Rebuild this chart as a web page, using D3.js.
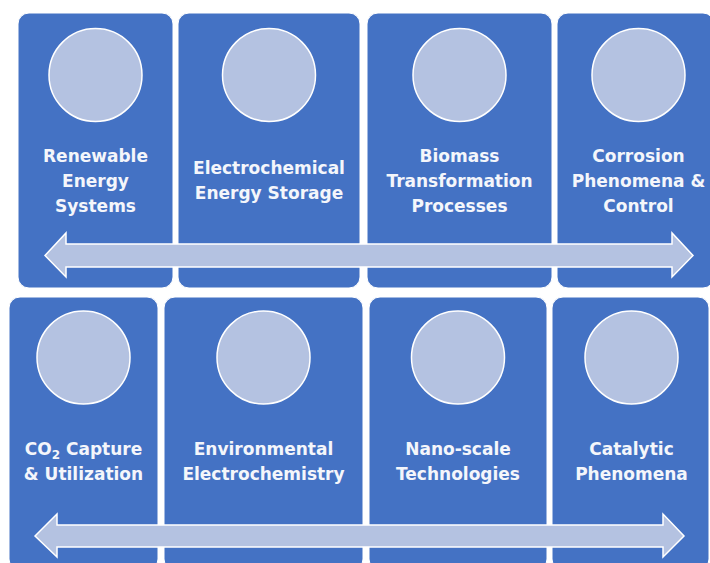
<!DOCTYPE html>
<html>
<head>
<meta charset="utf-8">
<script src="https://cdn.jsdelivr.net/npm/d3@7"></script>
<style>
  html, body { margin: 0; padding: 0; background: #ffffff; }
  svg { display: block; }
</style>
</head>
<body>
<svg id="chart" width="710" height="563"></svg>
<script>
// ---- Data ----
const topicsRow1 = [
  ["Renewable", "Energy", "Systems"],
  ["Electrochemical", "Energy Storage"],
  ["Biomass", "Transformation", "Processes"],
  ["Corrosion", "Phenomena &", "Control"]
];
const topicsRow2 = [
  ["CO|2| Capture", "& Utilization"],
  ["Environmental", "Electrochemistry"],
  ["Nano-scale", "Technologies"],
  ["Catalytic", "Phenomena"]
];

// ---- Layout (diagram geometry) ----
const rows = [
  { items: topicsRow1, top: 13, bottom: 288,
    edges: [[18,173],[178,360],[367,552],[557,714]], cxAdj: [0,0,0,3],
    circleY: 75, textY: 180.5,
    arrow: { y0: 244, y1: 267, h0: 233, h1: 277, tipL: 45, baseL: 66, tipR: 693, baseR: 672 } },
  { items: topicsRow2, top: 297, bottom: 570,
    edges: [[9,158],[164,363],[369,547],[552,709]], cxAdj: [0,0,0,1],
    circleY: 357.5, textY: 461,
    arrow: { y0: 525, y1: 547, h0: 514, h1: 557, tipL: 35, baseL: 57, tipR: 684, baseR: 663 } }
];

const BOX = "#4472C4", LIGHT = "#B4C2E1", TEXT = "#F4F6FB";
const svg = d3.select("#chart");

rows.forEach(row => {
  const g = svg.append("g");
  const data = row.items.map((lines, i) => ({
    lines, x0: row.edges[i][0], x1: row.edges[i][1],
    cx: (row.edges[i][0] + row.edges[i][1]) / 2 + row.cxAdj[i]
  }));

  g.selectAll("rect.box").data(data).join("rect")
    .attr("class", "box")
    .attr("x", d => d.x0).attr("y", row.top)
    .attr("width", d => d.x1 - d.x0).attr("height", row.bottom - row.top)
    .attr("rx", 11).attr("ry", 11)
    .attr("fill", BOX).attr("stroke", "#ffffff").attr("stroke-width", 1);

  g.selectAll("circle").data(data).join("circle")
    .attr("cx", d => d.cx).attr("cy", row.circleY).attr("r", 46.5)
    .attr("fill", LIGHT).attr("stroke", "#ffffff").attr("stroke-width", 1.5);

  const txt = g.selectAll("text").data(data).join("text")
    .attr("text-anchor", "middle")
    .attr("font-family", "'Comic Sans MS', 'DejaVu Sans', sans-serif")
    .attr("font-weight", "bold").attr("font-size", 17)
    .attr("fill", TEXT);

  txt.each(function(d) {
    const t = d3.select(this);
    const n = d.lines.length;
    d.lines.forEach((line, i) => {
      const y = row.textY + (i - (n - 1) / 2) * 25 + 6;
      const parts = line.split("|");
      parts.forEach((p, k) => {
        const ts = t.append("tspan").text(p);
        if (k === 0) ts.attr("x", d.cx).attr("y", y);
        if (k === 1) ts.attr("font-size", 12).attr("dy", 4);
        if (k === 2) ts.attr("dy", -4);
      });
    });
  });

  const a = row.arrow;
  const my = (a.y0 + a.y1) / 2;
  const pts = [
    [a.tipL, my], [a.baseL, a.h0], [a.baseL, a.y0], [a.baseR, a.y0], [a.baseR, a.h0],
    [a.tipR, my], [a.baseR, a.h1], [a.baseR, a.y1], [a.baseL, a.y1], [a.baseL, a.h1]
  ];
  g.append("path")
    .attr("d", d3.line()(pts) + "Z")
    .attr("fill", LIGHT).attr("stroke", "#ffffff").attr("stroke-width", 1.5)
    .attr("stroke-linejoin", "miter");
});
</script>
</body>
</html>
